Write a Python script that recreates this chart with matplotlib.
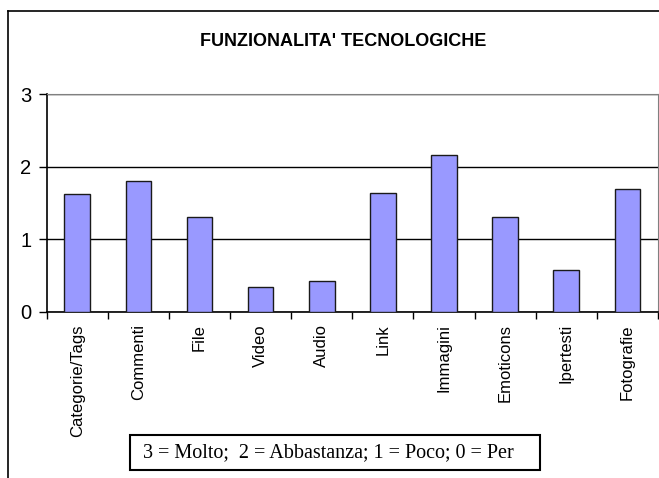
#!/usr/bin/env python3

import numpy as np
import matplotlib.pyplot as plt
from matplotlib.patches import Rectangle
from matplotlib.lines import Line2D

categories = ["Categorie/Tags", "Commenti", "File", "Video", "Audio",
              "Link", "Immagini", "Emoticons", "Ipertesti", "Fotografie"]
values = [1.62, 1.81, 1.31, 0.34, 0.43, 1.64, 2.16, 1.31, 0.57, 1.69]
yticks = [0, 1, 2, 3]
title = "FUNZIONALITA' TECNOLOGICHE"
note = "3 = Molto;  2 = Abbastanza; 1 = Poco; 0 = Per"

W, H = 659, 478

def main():
    plt.rcParams['font.family'] = ['Liberation Sans', 'DejaVu Sans']
    fig = plt.figure(figsize=(W/100, H/100), dpi=100)

    # outer chart frame (runs off the right and bottom edges)
    fig.add_artist(Line2D([8/W, 8/W], [-0.1, 1-11/H], color='black', lw=1.2))
    fig.add_artist(Line2D([8/W, 1.1], [1-11/H, 1-11/H], color='black', lw=1.2))

    ax = fig.add_axes([46.7/W, 1-311.7/H, (658-46.7)/W, (311.7-94.3)/H])
    x = np.arange(len(categories))
    ax.bar(x, values, width=0.42, color='#9999ff', edgecolor='#1a1a1a',
           linewidth=1.0, zorder=3)
    ax.set_xlim(-0.5, len(categories)-0.5)
    ax.set_ylim(0, 3)
    ax.set_yticks(yticks)
    ax.yaxis.grid(True, color='black', lw=1.0, zorder=0)
    ax.tick_params(axis='y', labelsize=14.5, length=6, width=1.0, pad=5)

    ax.set_xticks(x)
    ax.set_xticklabels(categories, rotation=90, fontsize=12, va='top')
    ax.set_xticks(np.arange(-0.5, len(categories)), minor=True)
    ax.tick_params(axis='x', which='major', length=0, pad=9)
    ax.tick_params(axis='x', which='minor', length=5, width=1.0)

    for s in ['top', 'right']:
        ax.spines[s].set_color('#808080')
    for s in ['left', 'bottom']:
        ax.spines[s].set_color('black')
        ax.spines[s].set_linewidth(1.2)

    fig.text(343/W, 1-42/H, title, ha='center', va='center',
             fontsize=13, fontweight='bold')

    fig.add_artist(Rectangle((130/W, 1-470/H), 410/W, 35/H, fill=False,
                             edgecolor='black', lw=1.5,
                             transform=fig.transFigure))
    fig.text(143/W, 1-453/H, note, ha='left', va='center', fontsize=14.5,
             family=['Liberation Serif', 'DejaVu Serif'])

    fig.savefig("out.png", dpi=100)

if __name__ == "__main__":
    main()
